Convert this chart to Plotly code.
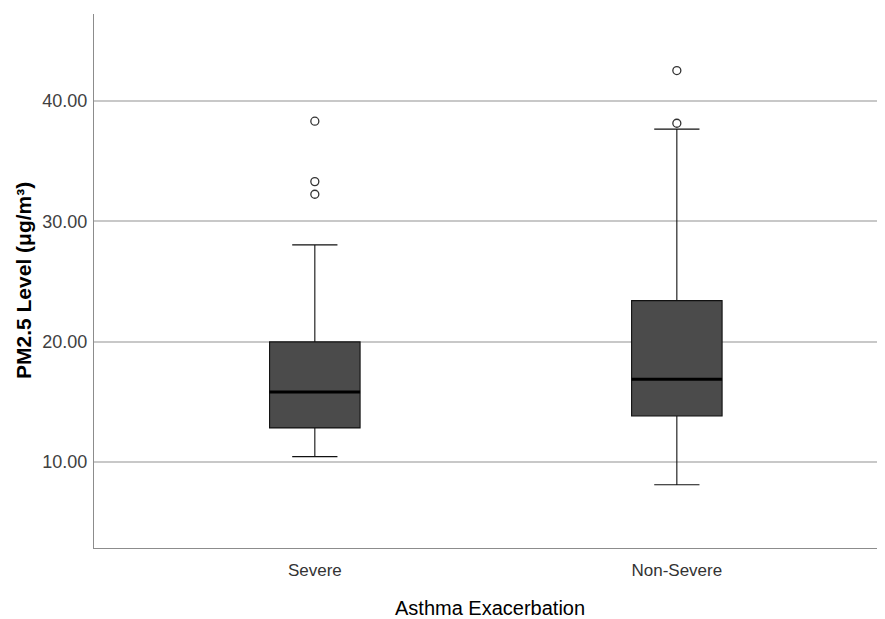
import plotly.graph_objects as go

categories = ["Severe", "Non-Severe"]
q1 = [12.83, 13.82]
median = [15.82, 16.87]
q3 = [19.98, 23.41]
lower_fence = [10.44, 8.11]
upper_fence = [28.04, 37.66]
outliers = {
    "Severe": [38.32, 33.30, 32.25],
    "Non-Severe": [42.53, 38.15],
}
y_ticks = [10, 20, 30, 40]

positions = list(range(len(categories)))
BOX_W = 0.25
FONT = "Liberation Sans, Arial, sans-serif"

fig = go.Figure()
fig.add_trace(go.Box(
    x=positions, q1=q1, median=median, q3=q3,
    lowerfence=lower_fence, upperfence=upper_fence,
    width=BOX_W, whiskerwidth=0.5,
    fillcolor="#4b4b4b", line=dict(color="#111111", width=1.1),
    boxpoints=False, showlegend=False, hoverinfo="skip",
))
# thicker median lines
for p, m in zip(positions, median):
    fig.add_trace(go.Scatter(
        x=[p - BOX_W / 2, p + BOX_W / 2], y=[m, m], mode="lines",
        line=dict(color="#000000", width=3), showlegend=False, hoverinfo="skip",
    ))
# outliers
ox, oy = [], []
for p, c in zip(positions, categories):
    for v in outliers[c]:
        ox.append(p)
        oy.append(v)
fig.add_trace(go.Scatter(
    x=ox, y=oy, mode="markers",
    marker=dict(symbol="circle-open", size=8, color="#333333", line=dict(width=1.3)),
    showlegend=False, hoverinfo="skip",
))

fig.update_layout(
    width=877, height=611,
    margin=dict(l=86, r=0, t=6, b=71),
    paper_bgcolor="white", plot_bgcolor="white",
    font=dict(family=FONT, color="#333333"),
    xaxis=dict(
        range=[-0.61, 1.575], tickvals=positions, ticktext=categories,
        showgrid=False, zeroline=False,
        showline=True, linecolor="#8c8c8c", linewidth=1.2,
        ticks="outside", ticklen=6, tickcolor="rgba(0,0,0,0)",
        tickfont=dict(size=17, color="#333333"),
    ),
    yaxis=dict(
        range=[2.85, 47.23], tickvals=y_ticks, tickformat=".2f",
        showgrid=True, gridcolor="#c8c8c8", gridwidth=1.5, zeroline=False,
        showline=True, linecolor="#8c8c8c", linewidth=1.2,
        ticks="outside", ticklen=2, tickcolor="rgba(0,0,0,0)",
        tickfont=dict(size=18, color="#404040"),
    ),
    annotations=[
        dict(text="<b>PM2.5 Level (μg/m³)</b>", xref="paper", yref="paper",
             x=0.0, xshift=-71, xanchor="center", y=0.5, yanchor="middle",
             textangle=-90, showarrow=False,
             font=dict(size=21, color="#000000", family=FONT)),
        dict(text="Asthma Exacerbation", xref="paper", yref="paper",
             x=0.5, y=0, yshift=-60, xanchor="center", yanchor="middle",
             showarrow=False, font=dict(size=20, color="#000000", family=FONT)),
    ],
)

fig.write_html("out.html")
